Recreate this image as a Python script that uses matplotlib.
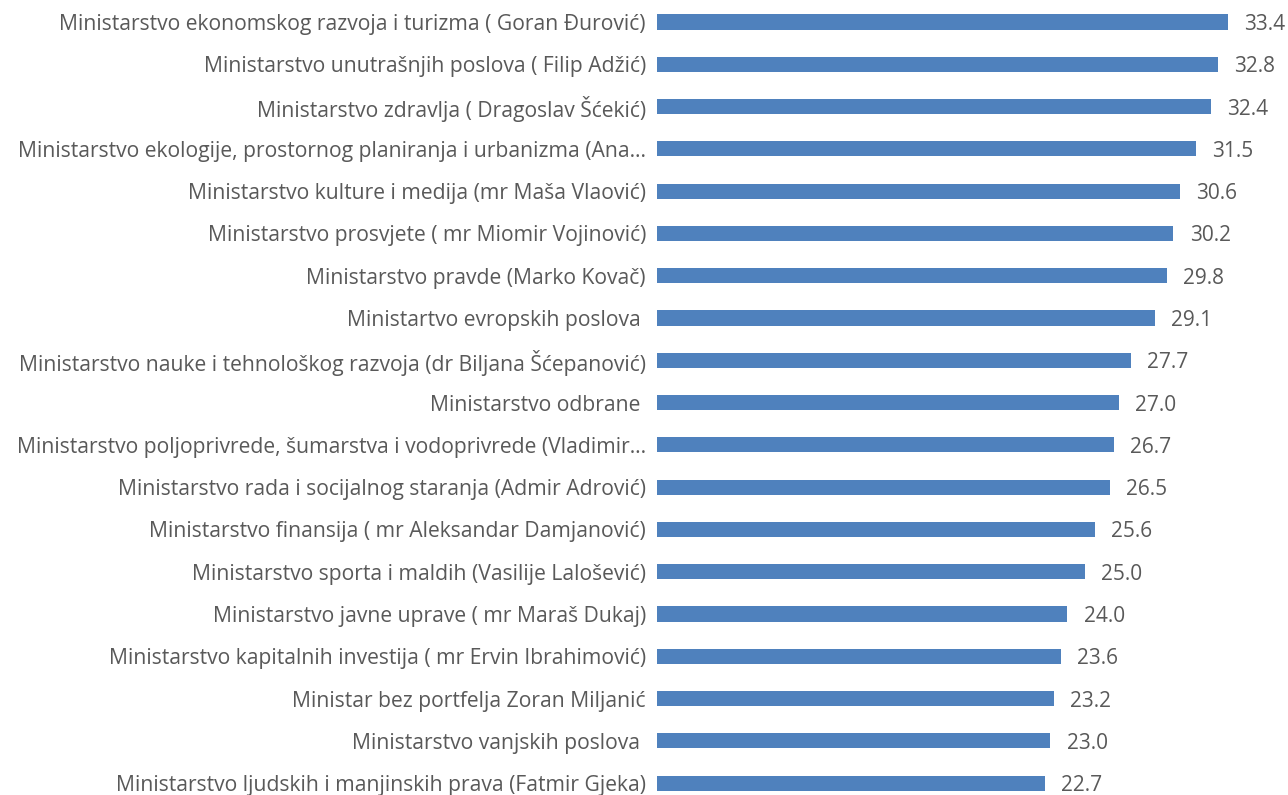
import matplotlib.pyplot as plt

# podaci (odozgo prema dolje)
categories = [
    "Ministarstvo ekonomskog razvoja i turizma ( Goran Đurović)",
    "Ministarstvo unutrašnjih poslova ( Filip Adžić)",
    "Ministarstvo zdravlja ( Dragoslav Šćekić)",
    "Ministarstvo ekologije, prostornog planiranja i urbanizma (Ana…",
    "Ministarstvo kulture i medija (mr Maša Vlaović)",
    "Ministarstvo prosvjete ( mr Miomir Vojinović)",
    "Ministarstvo pravde (Marko Kovač)",
    "Ministartvo evropskih poslova ",
    "Ministarstvo nauke i tehnološkog razvoja (dr Biljana Šćepanović)",
    "Ministarstvo odbrane ",
    "Ministarstvo poljoprivrede, šumarstva i vodoprivrede (Vladimir…",
    "Ministarstvo rada i socijalnog staranja (Admir Adrović)",
    "Ministarstvo finansija ( mr Aleksandar Damjanović)",
    "Ministarstvo sporta i maldih (Vasilije Lalošević)",
    "Ministarstvo javne uprave ( mr Maraš Dukaj)",
    "Ministarstvo kapitalnih investija ( mr Ervin Ibrahimović)",
    "Ministar bez portfelja Zoran Miljanić",
    "Ministarstvo vanjskih poslova ",
    "Ministarstvo ljudskih i manjinskih prava (Fatmir Gjeka)",
]
values = [33.4, 32.8, 32.4, 31.5, 30.6, 30.2, 29.8, 29.1, 27.7, 27.0,
          26.7, 26.5, 25.6, 25.0, 24.0, 23.6, 23.2, 23.0, 22.7]

plt.rcParams['font.family'] = ['Open Sans', 'DejaVu Sans']
text_color = '#595959'
bar_color = '#4f81bd'

W, H = 1288, 795
fig = plt.figure(figsize=(W / 100, H / 100), dpi=100)
ax = fig.add_axes([657 / W, 0, (W - 657) / W, 1])

y = list(range(len(categories)))
ax.barh(y, values, height=0.36, color=bar_color)

for yi, v in zip(y, values):
    ax.text(v + 0.95, yi + 0.06, f"{v:.1f}", va='center', ha='left',
            fontsize=15, color=text_color)

ax.set_xlim(0, (W - 657) / 17.1)
ax.set_ylim(18.28, -0.52)
ax.set_yticks(y)
ax.set_yticklabels(categories, fontsize=15.2, color=text_color)
ax.tick_params(axis='y', length=0, pad=8)
ax.set_xticks([])
for s in ax.spines.values():
    s.set_visible(False)

fig.savefig("out.png", dpi=100)
